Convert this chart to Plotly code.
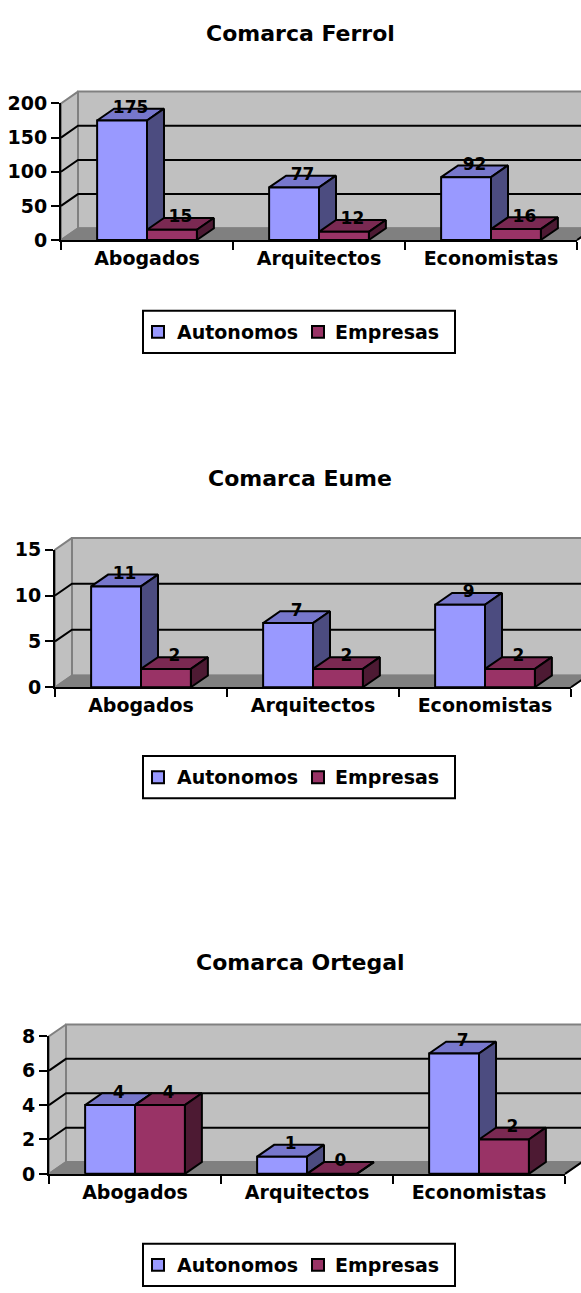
import plotly.graph_objects as go

# ---- data -------------------------------------------------------------
categorias = ["Abogados", "Arquitectos", "Economistas"]
series = ["Autonomos", "Empresas"]

ferrol_autonomos = [175, 77, 92]
ferrol_empresas = [15, 12, 16]
eume_autonomos = [11, 7, 9]
eume_empresas = [2, 2, 2]
ortegal_autonomos = [4, 1, 7]
ortegal_empresas = [4, 0, 2]

ferrol_ticks = [0, 50, 100, 150, 200]
eume_ticks = [0, 5, 10, 15]
ortegal_ticks = [0, 2, 4, 6, 8]

titulos = ["Comarca Ferrol", "Comarca Eume", "Comarca Ortegal"]

# ---- page geometry (pixels) ------------------------------------------
W, H = 581, 1293
CAT_PX = 172            # width of one category slot
DX_PX, DY_PX = 17, 12   # depth of the 3-D extrusion
BAR_W = 0.29            # bar width in category units

FONT = dict(family="DejaVu Sans", size=19, color="black", weight="bold")

# front face, top face, side face
COLORES = {
    "Autonomos": ("#9999FF", "#7777CC", "#4C4C80"),
    "Empresas": ("#993366", "#7A2952", "#4D1A33"),
}
WALL = "#C0C0C0"
FLOOR = "#808080"
EDGE = "#808080"

paneles = [
    dict(titulo=titulos[0], valores=[ferrol_autonomos, ferrol_empresas], ticks=ferrol_ticks,
         ax_px=61, zero_px=233, top_px=94, title_px=23, legend_px=305),
    dict(titulo=titulos[1], valores=[eume_autonomos, eume_empresas], ticks=eume_ticks,
         ax_px=55, zero_px=688, top_px=548, title_px=476, legend_px=758),
    dict(titulo=titulos[2], valores=[ortegal_autonomos, ortegal_empresas], ticks=ortegal_ticks,
         ax_px=49, zero_px=1183, top_px=1043, title_px=968, legend_px=1254),
]

# legend box layout (pixels, relative to the box's top-left corner)
LEG_X, LEG_W, LEG_H = 143, 312, 43
LEG_ITEMS = [(9, 32), (169, 190)]   # (square left, text left) per series
SQ = 12

fig = go.Figure()
layout = dict(
    width=W, height=H, margin=dict(l=0, r=0, t=0, b=0),
    paper_bgcolor="white", plot_bgcolor="rgba(0,0,0,0)",
    showlegend=False, font=FONT, annotations=[], shapes=[],
)


def px_x(v):
    return v / W


def px_y(v):
    return 1 - v / H


def poly(xs, ys, fill, line, lw, xa, ya):
    fig.add_trace(go.Scatter(
        x=xs + [xs[0]], y=ys + [ys[0]], mode="lines", fill="toself",
        fillcolor=fill, line=dict(color=line, width=lw),
        hoverinfo="skip", showlegend=False, xaxis=xa, yaxis=ya))


def seg(xs, ys, color, lw, xa, ya):
    fig.add_trace(go.Scatter(
        x=xs, y=ys, mode="lines", line=dict(color=color, width=lw),
        hoverinfo="skip", showlegend=False, xaxis=xa, yaxis=ya))


for k, p in enumerate(paneles):
    ticks = p["ticks"]
    vmax = ticks[-1]
    ax_px, zero_px, top_px = p["ax_px"], p["zero_px"], p["top_px"]
    yppu = (zero_px - top_px) / vmax
    dxu = DX_PX / CAT_PX
    dyu = DY_PX / yppu

    sid, fid = 2 * k + 1, 2 * k + 2
    sx, sy = f"x{sid}", f"y{sid}"
    fx, fy = f"x{fid}", f"y{fid}"

    # scene subplot: walls, floor, bars, labels
    sx0_px = ax_px - 10
    sy0_px = zero_px + 12
    sy1_px = top_px - DY_PX - 8
    layout[f"xaxis{sid}"] = dict(
        domain=[px_x(sx0_px), 1], anchor=sy,
        range=[-0.5 - (ax_px - sx0_px) / CAT_PX, -0.5 + (W - ax_px) / CAT_PX],
        visible=False, fixedrange=True)
    layout[f"yaxis{sid}"] = dict(
        domain=[px_y(sy0_px), px_y(sy1_px)], anchor=sx,
        range=[-(sy0_px - zero_px) / yppu, (zero_px - sy1_px) / yppu],
        visible=False, fixedrange=True)

    # frame subplot: axis lines, ticks and tick labels
    fx1_px = min(ax_px + 3 * CAT_PX, W)
    layout[f"xaxis{fid}"] = dict(
        domain=[px_x(ax_px), px_x(fx1_px)], anchor=fy,
        range=[-0.5, -0.5 + (fx1_px - ax_px) / CAT_PX], showline=True,
        linecolor="black", linewidth=2,
        showgrid=False, zeroline=False, tickmode="array", tickvals=[0, 1, 2],
        ticktext=categorias, ticks="", tickfont=FONT, fixedrange=True,
        minor=dict(tickmode="array", tickvals=[-0.5, 0.5, 1.5, 2.5], ticks="outside",
                   ticklen=8, tickwidth=2, tickcolor="black", showgrid=False))
    layout[f"yaxis{fid}"] = dict(
        domain=[px_y(zero_px), px_y(top_px)], anchor=fx,
        range=[0, vmax], showline=True, linecolor="black", linewidth=2,
        showgrid=False, zeroline=False, tickmode="array", tickvals=ticks,
        ticks="outside", ticklen=8, tickwidth=2, tickcolor="black",
        tickfont=FONT, fixedrange=True)

    xl, xr = -0.5, 2.5
    # back wall
    poly([xl + dxu, xr + dxu, xr + dxu, xl + dxu], [dyu, dyu, vmax + dyu, vmax + dyu],
         WALL, EDGE, 2, sx, sy)
    # side wall
    poly([xl, xl + dxu, xl + dxu, xl], [0, dyu, vmax + dyu, vmax], WALL, EDGE, 2, sx, sy)
    # floor
    poly([xl, xr, xr + dxu, xl + dxu], [0, 0, dyu, dyu], FLOOR, EDGE, 1.5, sx, sy)
    # gridlines on the walls
    for t in ticks[1:-1]:
        seg([xl, xl + dxu, xr + dxu], [t, t + dyu, t + dyu], "black", 2, sx, sy)
    # right end of the category axis
    seg([xr, xr + dxu], [0, dyu], "black", 2, sx, sy)

    # 3-D columns
    lab_x, lab_y, lab_t = [], [], []
    for i in range(len(categorias)):
        for s, nombre in enumerate(series):
            v = p["valores"][s][i]
            x0 = i - BAR_W if s == 0 else i
            x1 = x0 + BAR_W
            front, top, side = COLORES[nombre]
            poly([x0, x1, x1 + dxu, x0 + dxu], [v, v, v + dyu, v + dyu], top, "black", 2, sx, sy)
            poly([x1, x1 + dxu, x1 + dxu, x1], [0, dyu, v + dyu, v], side, "black", 2, sx, sy)
            if v > 0:
                poly([x0, x1, x1, x0], [0, 0, v, v], front, "black", 2, sx, sy)
            lab_x.append((x0 + x1) / 2 + dxu / 2)
            lab_y.append(v + dyu)
            lab_t.append(str(v))
    fig.add_trace(go.Scatter(
        x=lab_x, y=lab_y, text=lab_t, mode="text", textposition="middle center",
        textfont=dict(family="DejaVu Sans", size=17, color="black", weight="bold"),
        cliponaxis=False, hoverinfo="skip", showlegend=False, xaxis=sx, yaxis=sy))

    # keeps the frame axes on the page
    fig.add_trace(go.Scatter(x=[None], y=[None], mode="markers", hoverinfo="skip",
                             showlegend=False, xaxis=fx, yaxis=fy))

    # legend box
    ly = p["legend_px"]
    layout["shapes"].append(dict(
        type="rect", xref="paper", yref="paper",
        x0=px_x(LEG_X), x1=px_x(LEG_X + LEG_W), y0=px_y(ly), y1=px_y(ly + LEG_H),
        line=dict(color="black", width=2), fillcolor="white"))
    cy = ly + LEG_H / 2
    for (sq_x, tx_x), nombre in zip(LEG_ITEMS, series):
        layout["shapes"].append(dict(
            type="rect", xref="paper", yref="paper",
            x0=px_x(LEG_X + sq_x), x1=px_x(LEG_X + sq_x + SQ),
            y0=px_y(cy - SQ / 2), y1=px_y(cy + SQ / 2),
            line=dict(color="black", width=2), fillcolor=COLORES[nombre][0]))
        layout["annotations"].append(dict(
            text=nombre, x=px_x(LEG_X + tx_x), y=px_y(cy), xref="paper", yref="paper",
            xanchor="left", yanchor="middle", showarrow=False, font=FONT))

    # panel title
    layout["annotations"].append(dict(
        text=p["titulo"], x=px_x(300), y=px_y(p["title_px"]), xref="paper", yref="paper",
        xanchor="center", yanchor="middle", showarrow=False,
        font=dict(family="DejaVu Sans", size=22, color="black", weight="bold")))

fig.update_layout(**layout)
fig.write_html("out.html")
